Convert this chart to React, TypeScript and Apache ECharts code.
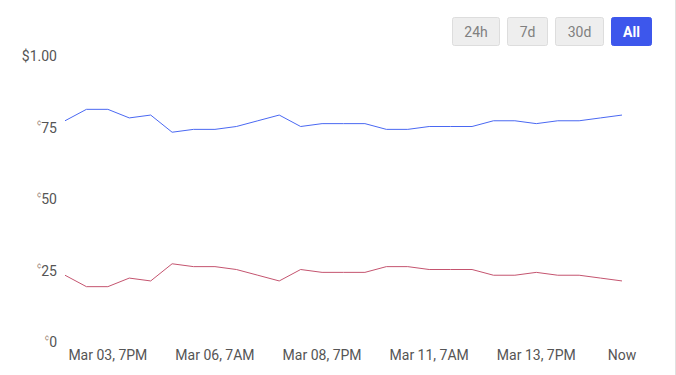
import React, { useEffect, useRef } from "react";
import * as echarts from "echarts";

const categories: string[] = [
  "Mar 02, 7PM", "Mar 03, 7AM", "Mar 03, 7PM", "Mar 04, 7AM", "Mar 04, 7PM",
  "Mar 05, 7AM", "Mar 05, 7PM", "Mar 06, 7AM", "Mar 06, 7PM", "Mar 07, 7AM",
  "Mar 07, 7PM", "Mar 08, 7AM", "Mar 08, 7PM", "Mar 09, 7AM", "Mar 09, 7PM",
  "Mar 10, 7AM", "Mar 10, 7PM", "Mar 11, 7AM", "Mar 11, 7PM", "Mar 12, 7AM",
  "Mar 12, 7PM", "Mar 13, 7AM", "Mar 13, 7PM", "Mar 14, 7AM", "Mar 14, 7PM",
  "Mar 15, 7AM", "Now",
];
const shownLabelIdx: number[] = [2, 7, 12, 17, 22, 26];

const blueSeries: number[] = [
  0.77, 0.81, 0.81, 0.78, 0.79, 0.73, 0.74, 0.74, 0.75, 0.77,
  0.79, 0.75, 0.76, 0.76, 0.76, 0.74, 0.74, 0.75, 0.75, 0.75,
  0.77, 0.77, 0.76, 0.77, 0.77, 0.78, 0.79,
];
const redSeries: number[] = [
  0.23, 0.19, 0.19, 0.22, 0.21, 0.27, 0.26, 0.26, 0.25, 0.23,
  0.21, 0.25, 0.24, 0.24, 0.24, 0.26, 0.26, 0.25, 0.25, 0.25,
  0.23, 0.23, 0.24, 0.23, 0.23, 0.22, 0.21,
];
const buttonLabels: string[] = ["24h", "7d", "30d", "All"];

export default function App() {
  const ref = useRef<HTMLDivElement>(null);
  useEffect(() => {
    if (!ref.current) return;
    const chart = echarts.init(ref.current, null, { renderer: "svg" });
    const btnX = [452, 507, 555, 611];
    const btnW = [47, 40, 48, 40];
    const buttons = buttonLabels.map((t, i) => {
      const active = t === "All";
      return {
        type: "group",
        x: btnX[i],
        y: 17,
        children: [
          {
            type: "rect",
            shape: { x: 0.5, y: 0.5, width: btnW[i], height: 28, r: 2 },
            style: {
              fill: active ? "#3d57ec" : "#eeeeee",
              stroke: active ? "#3d57ec" : "#dddddd",
              lineWidth: 1,
            },
          },
          {
            type: "text",
            x: btnW[i] / 2 + 0.5,
            y: 15,
            style: {
              text: t,
              fill: active ? "#ffffff" : "#808080",
              fontSize: 14,
              fontWeight: active ? "bold" : "normal",
              fontFamily: "Roboto",
              align: "center",
              verticalAlign: "middle",
            },
          },
        ],
      };
    });
    chart.setOption({
      animation: false,
      grid: { left: 65, right: 54, top: 55, bottom: 34 },
      xAxis: {
        type: "category",
        data: categories,
        boundaryGap: false,
        axisLine: { show: false },
        axisTick: { show: false },
        splitLine: { show: false },
        axisLabel: {
          interval: (idx: number) => shownLabelIdx.includes(idx),
          color: "#555555",
          fontSize: 14,
          fontFamily: "Roboto",
          margin: 7,
        },
      },
      yAxis: {
        type: "value",
        min: 0,
        max: 1,
        interval: 0.25,
        axisLine: { show: false },
        axisTick: { show: false },
        splitLine: { show: false },
        axisLabel: {
          margin: 8,
          fontFamily: "Roboto",
          fontSize: 14,
          color: "#555555",
          formatter: (v: number) =>
            v >= 1 ? "{n|$1.00}" : "{c|¢}{n|" + Math.round(v * 100) + "}",
          rich: {
            n: { fontSize: 14, color: "#555555", fontFamily: "Roboto", lineHeight: 16, verticalAlign: "bottom" },
            c: { fontSize: 8, color: "#9a8070", fontFamily: "Roboto", lineHeight: 16, verticalAlign: "top" },
          },
        },
      },
      series: [
        {
          type: "line",
          data: blueSeries,
          symbol: "none",
          lineStyle: { color: "#4a68f2", width: 1 },
          itemStyle: { color: "#4a68f2" },
        },
        {
          type: "line",
          data: redSeries,
          symbol: "none",
          lineStyle: { color: "#c4546f", width: 1 },
          itemStyle: { color: "#c4546f" },
        },
      ],
      graphic: [
        ...buttons,
        {
          type: "line",
          shape: { x1: 675.5, y1: 0, x2: 675.5, y2: 375 },
          style: { stroke: "#e0e0e0", lineWidth: 1 },
        },
      ],
    });
    return () => chart.dispose();
  }, []);
  return <div ref={ref} style={{ width: 676, height: 375, position: "absolute", left: 0, top: 0 }} />;
}
